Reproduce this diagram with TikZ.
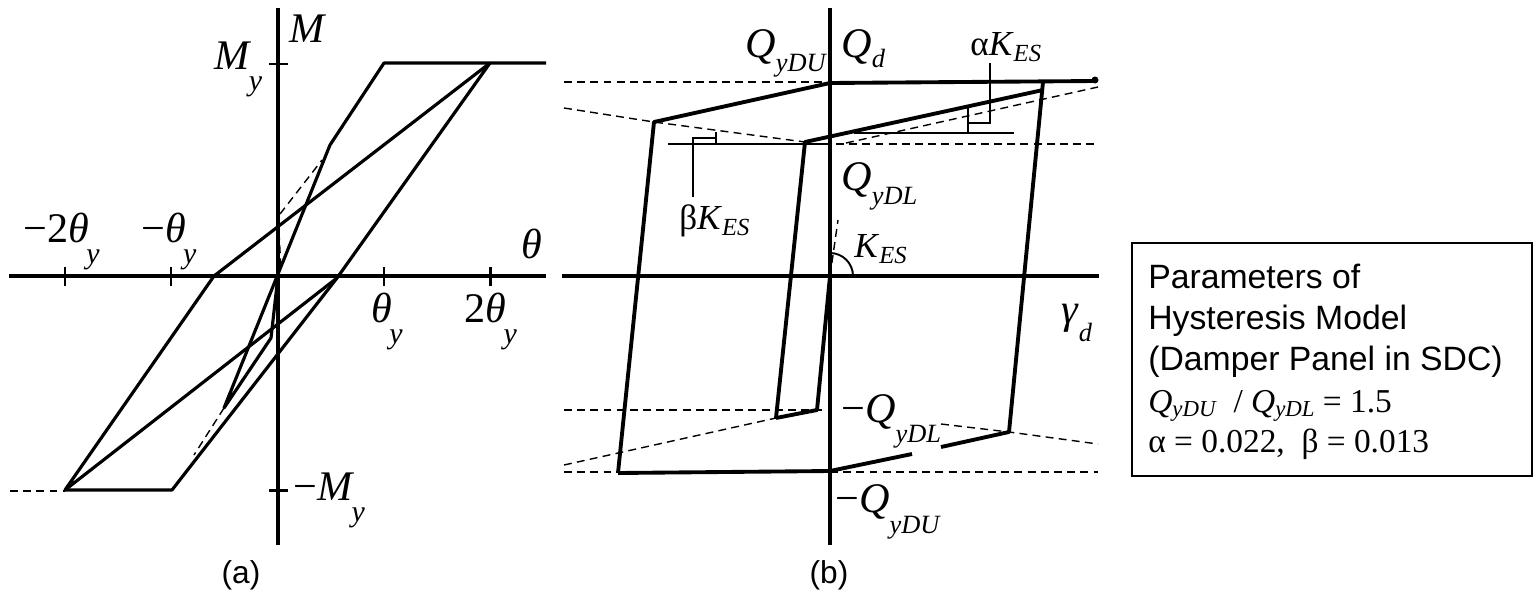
\documentclass[tikz,border=0pt]{standalone}
\usepackage{fontspec}
\setmainfont{Liberation Serif}
\setsansfont{Liberation Sans}
\newcommand{\ysub}{\kern-1.5pt\raisebox{-12pt}{\fontsize{17}{17}\selectfont\textit{y}}}
\newcommand{\qsub}[2]{\raisebox{-#1pt}{\fontsize{15}{15}\selectfont\textit{#2}}}
\newcommand{\kes}{\textit{K}\raisebox{-3.5pt}{\fontsize{14}{14}\selectfont\textit{ES}}}
\tikzset{
  axis/.style={line width=2.7pt},
  tick/.style={line width=1.7pt},
  curve/.style={line width=1.8pt,line join=round},
  heavy/.style={line width=2.2pt,line join=round},
  guide/.style={line width=0.8pt,dash pattern=on 4.5pt off 3pt},
  leader/.style={line width=1.1pt},
  lab/.style={inner sep=0pt,anchor=base west,font=\fontsize{24}{24}\selectfont},
  labs/.style={inner sep=0pt,anchor=base west,font=\fontsize{20}{20}\selectfont},
  caplab/.style={inner sep=0pt,anchor=base,font=\sffamily\fontsize{18}{18}\selectfont},
  boxline/.style={inner sep=0pt,anchor=base west,font=\sffamily\fontsize{19.2}{19.2}\selectfont},
  boxmath/.style={inner sep=0pt,anchor=base west,font=\fontsize{19}{19}\selectfont}
}
\begin{document}
\begin{tikzpicture}[x=0.02cm,y=-0.02cm]
\useasboundingbox (0,0) rectangle (1537,602);

% panel a
\draw[axis] (278,8)--(278,545);
\draw[axis] (9,276)--(546,276);
\foreach \tx in {65,171,384,490} \draw[tick] (\tx,267)--(\tx,286);
\foreach \ty in {64,490} \draw[tick] (269,\ty)--(288,\ty);

\draw[curve] (546,63)--(384,63)--(330,145)--(224,408)--(271,338)--(278,276);
\draw[curve] (490,63)--(214,276)--(65,490)--(337,278);
\draw[curve] (490,63)--(337,278)--(172,490)--(65,490);
\draw[guide] (10,491)--(65,491);
\draw[guide] (280,214)--(322,160);
\draw[guide] (279,232)--(281,270);
\draw[guide] (224,408)--(194,455);

\node[lab] (mtop) at (289,42) {\textit{M}};
\node[lab] (my) at (214,69) {\textit{M}\ysub};
\node[lab] (tnn) at (23,242) {−2\textit{θ}\ysub};
\node[lab] (tn) at (141,242) {−\textit{θ}\ysub};
\node[lab] (th) at (521,258) {\textit{θ}};
\node[lab] (tp) at (371,322) {\textit{θ}\ysub};
\node[lab] (tpp) at (464,322) {2\textit{θ}\ysub};
\node[lab] (mn) at (293,500) {−\textit{M}\ysub};
\node[caplab] (capa) at (241,583) {(a)};

% panel b
\draw[axis] (830,8)--(830,545);
\draw[axis] (562,276)--(1099,276);

\draw[guide] (564,82)--(830,82);
\draw[guide] (564,108)--(654,122)--(805,142);
\draw[guide] (836,144)--(1098,144);
\draw[guide] (846,143)--(1098,87);
\draw[guide] (564,410)--(828,410);
\draw[guide] (564,465)--(776,418);
\draw[guide] (564,472)--(618,472);
\draw[guide] (830,472)--(1098,472);
\draw[guide] (941,424)--(1009,432)--(1098,444);
\draw[guide] (830,276)--(838,220);

\draw[heavy] (618,473)--(654,122)--(830,83)--(1095,81);
\draw[heavy] (776,418)--(805,142)--(1043,90);
\draw[heavy] (1043,82)--(1009,432)--(941,447);
\draw[heavy] (912,454)--(830,471)--(618,473);
\draw[heavy] (776,418)--(817,410)--(830,276);
\fill (1095,80) circle (3.5);

\draw[leader] (668,144)--(830,144);
\draw[leader] (693,197)--(693,138)--(716,138);
\draw[leader] (716,132)--(716,144);
\draw[leader] (854,133)--(1014,133);
\draw[leader] (968,108)--(968,133);
\draw[leader] (990,63)--(990,123)--(968,123);
\draw[leader] (853,276) arc (0:-90:23);

\node[lab] (qdu) at (745,57) {\textit{Q}\qsub{8.5}{yDU}};
\node[lab] (qd) at (841,57) {\textit{Q}\qsub{5.7}{d}};
\node[labs] (aes) at (970,55) {α\kes};
\node[lab] (qdl) at (841,190) {\textit{Q}\qsub{8}{yDL}};
\node[labs] (bes) at (679,229) {β\kes};
\node[labs] (kes) at (854,257) {\kes};
\node[lab] (gam) at (1061,323) {\textit{γ}\qsub{10.8}{d}};
\node[lab] (nqdl) at (841,422) {−\textit{Q}\qsub{11.4}{yDL}};
\node[lab] (nqdu) at (835,512) {−\textit{Q}\qsub{12}{yDU}};
\node[caplab] (capb) at (829,583) {(b)};

% parameter box
\draw[line width=1.2pt] (1132,243) rectangle (1532,476);
\node[boxline] (par) at (1148,288) {Parameters of};
\node[boxline] (hys) at (1148,329) {Hysteresis Model};
\node[boxline] (dam) at (1148,370) {(Damper Panel in SDC)};
\node[boxmath] (rat) at (1148,412) {\textit{Q}\raisebox{-2.5pt}{\fontsize{13}{13}\selectfont\textit{yDU}}\ \ / \textit{Q}\raisebox{-2.5pt}{\fontsize{13}{13}\selectfont\textit{yDL}} = 1.5};
\node[boxmath] (ab) at (1148,452) {α = 0.022,\ \ β = 0.013};
\end{tikzpicture}
\end{document}
